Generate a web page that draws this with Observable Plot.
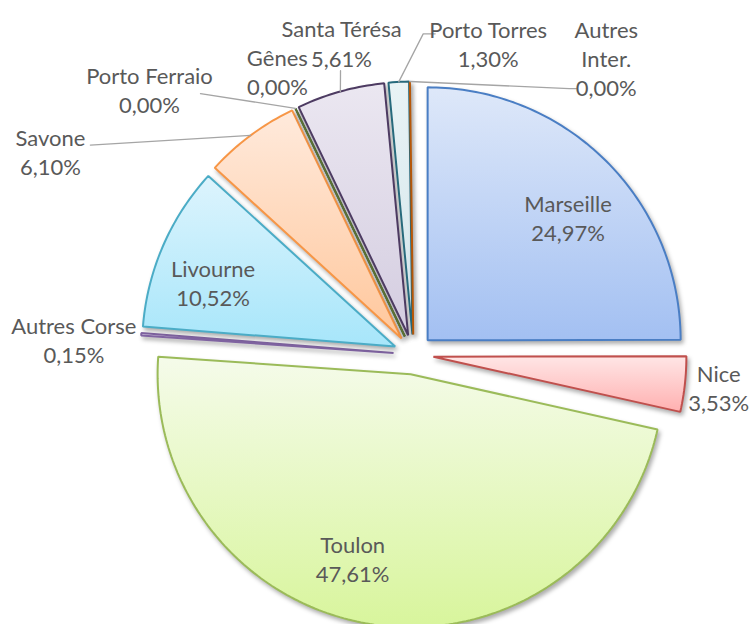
<!DOCTYPE html>
<html><head><meta charset="utf-8">
<script src="https://cdn.jsdelivr.net/npm/d3@7"></script>
<script src="https://cdn.jsdelivr.net/npm/@observablehq/plot@0.6"></script>
<style>
body{margin:0;background:#fff;}
#chart svg{display:block;overflow:hidden;}
#chart path.slice{filter:drop-shadow(2px 3px 2px rgba(0,0,0,0.32));}
</style></head><body><div id="chart"></div><script>
// ---- data ----
const ports = ["Marseille","Nice","Toulon","Autres Corse","Livourne","Savone","Porto Ferraio","Gênes","Santa Térésa","Porto Torres","Autres Inter."];
const shares = [24.97, 3.53, 47.61, 0.15, 10.52, 6.10, 0.00, 0.00, 5.61, 1.30, 0.00];
const labelNames = ["Marseille","Nice","Toulon","Autres Corse","Livourne","Savone","Porto Ferraio","Gênes","Santa Térésa","Porto Torres","Autres\nInter."];

// ---- styles ----
const strokes = ["#4A7EC4","#C0504D","#9BBB59","#8064A2","#4BACC6","#F79646","#2C4D75","#5F7530","#4D3B62","#276A7C","#B65708"];
const gradTop = ["#DEE8F9","#FFE6E6","#F5FBEA","#E6E0EE","#DDF4FD","#FFEADC","#C8D4E6","#D8E4C0","#EBE7F1","#E9F3F5","#F8DCC4"];
const gradBottom = ["#A3C0F2","#FFB0B0","#D8F59C","#C8BCDC","#A7E6FA","#FFC79C","#9AB0D0","#B8CC90","#D4CDE0","#D2E5EB","#F0B080"];

// ---- layout ----
const CX = 413, CY = 354, R = 253, EXPLODE = 20;
// label anchor: [angle (deg, clockwise from top), distance from pie centre]
const labelPolar = [[48.3,207],[96.1,307],[196.6,213],[272.6,340],[289.8,213],[299.2,416],[315.1,374],[334.3,314],[347,320],[13.5,320],[33,354]];
// leader line points relative to the label anchor (null = no leader)
const leaders = [null,null,null,null,null,[[40,-6.5]],[[51,4]],null,[[-1,28]],[[-53,-9.5],[-65,-9.5]],[[-30,31],[-37,31]]];

const loc = d3.formatLocale({decimal:",", thousands:" ", grouping:[3], currency:["","€"]});
const fmt = v => loc.format(".2f")(v) + "%";
const rad = d => d * Math.PI / 180;
const dir = a => [Math.sin(rad(a)), -Math.cos(rad(a))];

let cum = 0;
const slices = ports.map((p, i) => {
  const a0 = cum / 100 * 360; cum += shares[i];
  const a1 = cum / 100 * 360;
  const mid = (a0 + a1) / 2;
  const [ex, ey] = dir(mid);
  const ax = CX + EXPLODE * ex, ay = CY + EXPLODE * ey;
  const pts = [{x: ax, y: ay, name: p, g: `url(#grad${i})`}];
  const n = Math.max(1, Math.ceil(a1 - a0));
  for (let k = 0; k <= n; k++) {
    const a = a0 + (a1 - a0) * k / n;
    const [dx, dy] = dir(a);
    pts.push({x: ax + R * dx, y: ay + R * dy, name: p, g: `url(#grad${i})`});
  }
  const [mx, my] = dir(mid);
  return {name: p, i, pts, mid, arcMid: {x: ax + R * mx, y: ay + R * my}};
});

const labels = slices.map((s, i) => {
  const [ang, r] = labelPolar[i];
  const [dx, dy] = dir(ang);
  return {x: CX + r * dx, y: CY + r * dy, text: labelNames[i] + "\n" + fmt(shares[i])};
});

const leaderPts = [];
slices.forEach((s, i) => {
  if (!leaders[i]) return;
  const L = labels[i];
  const path = [s.arcMid];
  leaders[i].slice().reverse().forEach(([ox, oy]) => path.push({x: L.x + ox, y: L.y + oy}));
  path.forEach(p => leaderPts.push({...p, z: s.name}));
});

const defsMark = () => {
  const defs = d3.create("svg:defs");
  ports.forEach((p, i) => {
    const g = defs.append("linearGradient").attr("id", "grad" + i)
      .attr("x1", 0).attr("y1", 0).attr("x2", 0).attr("y2", 1);
    g.append("stop").attr("offset", "0%").attr("stop-color", gradTop[i]);
    g.append("stop").attr("offset", "100%").attr("stop-color", gradBottom[i]);
  });
  return defs.node();
};

const sliceMarks = slices.map(s => Plot.line(s.pts, {
  x: "x", y: "y", z: "name", curve: "linear-closed",
  fill: "g", stroke: strokes[s.i], strokeWidth: 2,
  strokeLinejoin: "miter"
}));

const chart = Plot.plot({
  width: 750, height: 624, margin: 0,
  style: {background: "#fff"},
  x: {domain: [0, 750], range: [0, 750], axis: null},
  y: {domain: [0, 624], range: [0, 624], axis: null},
  color: {type: "identity"},
  marks: [
    defsMark,
    ...sliceMarks,
    Plot.line(leaderPts, {x: "x", y: "y", z: "z", stroke: "#A5A5A5", strokeWidth: 1.3}),
    Plot.text(labels, {x: "x", y: "y", text: "text", fill: "#595959", fontSize: 22,
      lineHeight: 1.32, fontFamily: "Lato, 'Open Sans', sans-serif", textAnchor: "middle"})
  ]
});
chart.querySelectorAll('path').forEach(p => {
  const f = p.getAttribute("fill");
  if (f && f.startsWith("url(")) p.classList.add("slice");
});
document.getElementById("chart").appendChild(chart);
</script></body></html>
